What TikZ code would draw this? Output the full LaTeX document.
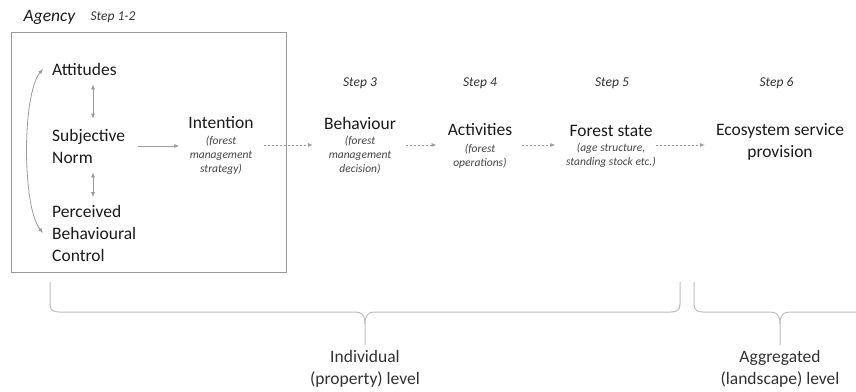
\documentclass[tikz,border=0pt]{standalone}
\usepackage{fontspec}
\setmainfont{Carlito}
\usetikzlibrary{arrows.meta}
\definecolor{txtgrey}{HTML}{1A1A1A}
\definecolor{subgrey}{HTML}{444444}
\definecolor{linegrey}{HTML}{9A9A9A}
\definecolor{bracegrey}{HTML}{BDBDBD}
\tikzset{
  maintext/.style={inner sep=0pt,text=txtgrey,font=\fontsize{17.5}{22}\selectfont},
  lefttext/.style={maintext,align=left,anchor=west},
  midtext/.style={maintext,align=center},
  subtext/.style={inner sep=0pt,text=subgrey,align=center,font=\fontsize{11.5}{14}\selectfont\itshape},
  steptext/.style={inner sep=0pt,text=txtgrey!90,font=\fontsize{13.5}{16}\selectfont\itshape},
  frame/.style={draw=linegrey,line width=1pt,minimum width=275pt,minimum height=240pt,inner sep=0pt},
  biarrow/.style={draw=linegrey,line width=0.8pt,{Latex[length=5pt,width=4pt]}-{Latex[length=5pt,width=4pt]}},
  onearrow/.style={draw=linegrey,line width=0.8pt,-{Latex[length=5pt,width=4pt]}},
  dotarrow/.style={onearrow,dash pattern=on 2pt off 2pt,shorten <=10pt,shorten >=11pt},
  bracepath/.style={draw=bracegrey,line width=1pt}
}
\begin{document}
\begin{tikzpicture}[x=1pt,y=-1pt]
\useasboundingbox (0,0) rectangle (856,391);
\draw (49.5,17) node[maintext,font=\fontsize{17.5}{22}\selectfont\itshape](agency){Agency};
\draw (113,17) node[steptext](step12){Step 1-2};
\draw (148.5,152) node[frame](agencybox){};
\draw (52,69) node[lefttext](att){Attitudes};
\draw (52,146) node[lefttext](sn){Subjective\\Norm};
\draw (52,233) node[lefttext](pbc){Perceived\\Behavioural\\Control};
\coordinate (ax) at (93,0);
\coordinate (row) at (0,145);
\draw[biarrow,shorten <=9pt,shorten >=10pt] (ax |- att.south) -- (ax |- sn.north);
\draw[biarrow,shorten <=9pt,shorten >=7.5pt] (ax |- sn.south) -- (ax |- pbc.north);
\draw[biarrow] ([xshift=-9pt]att.west) .. controls +(-21,25) and +(-21,-26) .. ([xshift=-9pt]pbc.west);
\draw (221,123) node[midtext](int){Intention};
\draw (221,155) node[subtext](intsub){(forest\\management\\strategy)};
\draw (360,83) node[steptext](step3){Step 3};
\draw (360,123) node[midtext](beh){Behaviour};
\draw (360,155) node[subtext](behsub){(forest\\management\\decision)};
\draw (480,83) node[steptext](step4){Step 4};
\draw (480,130) node[midtext](act){Activities};
\draw (480,156) node[subtext](actsub){(forest\\operations)};
\draw (612,83) node[steptext](step5){Step 5};
\draw (611,131) node[midtext](fst){Forest state};
\draw (611,155.5) node[subtext](fstsub){(age structure,\\standing stock etc.)};
\draw (776.5,83) node[steptext](step6){Step 6};
\draw (780,141.5) node[midtext](eco){Ecosystem service\\provision};
\draw[onearrow,shorten <=13pt,shorten >=9pt] (sn.east) -- (sn.east -| int.west);
\draw[dotarrow] (int.east |- row) -- (beh.west |- row);
\draw[dotarrow] (beh.east |- row) -- (act.west |- row);
\draw[dotarrow,shorten >=14pt] (act.east |- row) -- (fst.west |- row);
\draw[dotarrow,shorten <=3pt] (fst.east |- row) -- (eco.west |- row);
\draw[bracepath] (50,282) -- (50,304) .. controls (50,310) and (53,312) .. (59,312) -- (355,312) .. controls (362,312) and (365,315) .. (365,324) -- (365,345);
\draw[bracepath] (680,282) -- (680,304) .. controls (680,310) and (677,312) .. (671,312) -- (375,312) .. controls (368,312) and (365,315) .. (365,324);
\begin{scope}
\clip (0,0) rectangle (856,391);
\draw[bracepath] (694,282) -- (694,304) .. controls (694,310) and (697,312) .. (703,312) -- (770,312) .. controls (777,312) and (780,315) .. (780,324) -- (780,345);
\draw[bracepath] (866,282) -- (866,304) .. controls (866,310) and (863,312) .. (857,312) -- (790,312) .. controls (783,312) and (780,315) .. (780,324);
\end{scope}
\draw (365,369) node[midtext,text=txtgrey!90](indiv){Individual\\(property) level};
\draw (780,369) node[midtext,text=txtgrey!90](aggr){Aggregated\\(landscape) level};
\end{tikzpicture}
\end{document}
